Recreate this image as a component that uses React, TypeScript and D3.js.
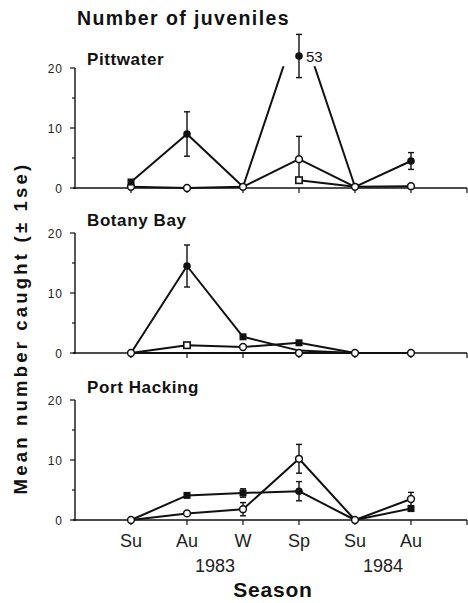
import { useEffect, useRef } from 'react'
import * as d3 from 'd3'

// seasons along the x axis (index 1..6), the axis runs from 0 to 7
const seasons = ['Su', 'Au', 'W', 'Sp', 'Su', 'Au']
const years = ['1983', '1984']
const yearCentres = [2.5, 5.5]
const yTicks = [0, 10, 20]
const yMinorTicks = [5, 15]

const panelNames = ['Pittwater', 'Botany Bay', 'Port Hacking']

// Pittwater
const pwFilled = [1.0, 9.0, 0.2, 53, 0.2, 4.5]
const pwFilledSe = [0, 3.7, 0, 3.6, 0, 1.4]
const pwFilledMarks = ['box', 'dot', '', 'dot', '', 'dot']
const pwOpen = [0.2, 0, 0.2, 4.8, 0.2, 0.3]
const pwOpenSe = [0, 0, 0, 3.8, 0, 0]
const pwOpenMarks = ['ring', 'ring', 'ring', 'ring', 'ring', 'ring']
const pwSquare = [null, null, null, 1.3, 0.2, null]
const pwSquareSe = [0, 0, 0, 0, 0, 0]
const pwSquareMarks = ['', '', '', 'openbox', '', '']

// Botany Bay
const bbFilled = [0, 14.5, 2.7, 0.4, 0, null]
const bbFilledSe = [0, 3.5, 0, 0, 0, 0]
const bbFilledMarks = ['', 'dot', 'box', '', '', '']
const bbOpen = [0, 1.3, 1.0, 1.7, 0, 0]
const bbOpenSe = [0, 0, 0, 0.3, 0, 0]
const bbOpenMarks = ['ring', 'openbox', 'ring', 'box', 'ring', 'ring']
const bbZero = [0, 0, 0, 0, 0, 0]
const bbZeroSe = [0, 0, 0, 0, 0, 0]
const bbZeroMarks = ['', '', '', 'ring', '', '']

// Port Hacking
const phFilled = [0, 4.1, 4.5, 4.8, 0, 1.9]
const phFilledSe = [0, 0, 0.7, 1.6, 0, 0.4]
const phFilledMarks = ['', 'box', 'box', 'dot', '', 'box']
const phOpen = [0, 1.1, 1.8, 10.2, 0, 3.5]
const phOpenSe = [0, 0, 1.1, 2.4, 0, 1.1]
const phOpenMarks = ['ring', 'ring', 'ring', 'ring', 'ring', 'ring']

type Series = { values: (number | null)[]; se: number[]; marks: string[] }

const panels: Series[][] = [
  [
    { values: pwOpen, se: pwOpenSe, marks: pwOpenMarks },
    { values: pwSquare, se: pwSquareSe, marks: pwSquareMarks },
    { values: pwFilled, se: pwFilledSe, marks: pwFilledMarks },
  ],
  [
    { values: bbZero, se: bbZeroSe, marks: bbZeroMarks },
    { values: bbOpen, se: bbOpenSe, marks: bbOpenMarks },
    { values: bbFilled, se: bbFilledSe, marks: bbFilledMarks },
  ],
  [
    { values: phFilled, se: phFilledSe, marks: phFilledMarks },
    { values: phOpen, se: phOpenSe, marks: phOpenMarks },
  ],
]

function App() {
  const svgRef = useRef<SVGSVGElement>(null)

  useEffect(() => {
    const width = 468
    const height = 603
    const font = '"Liberation Sans", Arial, sans-serif'
    const ink = '#111'

    const svg = d3.select(svgRef.current)
    svg.selectAll('*').remove()
    svg.attr('width', width).attr('height', height)

    svg.append('rect').attr('width', width).attr('height', height).attr('fill', '#fff')

    const x = d3.scaleLinear().domain([0, 7]).range([75, 467])
    const panelZero = [188, 353, 520]
    const panelTop = 120
    const labelBaseline = [65, 226, 393]

    // off-scale value: drawn at 22, lines aim at 28 and stop at 20.3
    const shownAt = 22
    const aimAt = 28
    const cutAt = 20.3

    svg.append('text')
      .attr('x', 77).attr('y', 25)
      .attr('font-family', font).attr('font-weight', 'bold')
      .attr('font-size', 19.5).attr('letter-spacing', 1.4)
      .attr('fill', ink)
      .text('Number of juveniles')

    panels.forEach((series, p) => {
      const y = d3.scaleLinear().domain([0, 20]).range([panelZero[p], panelZero[p] - panelTop])
      const g = svg.append('g')

      // axes
      g.append('line')
        .attr('x1', x(0)).attr('x2', x(0))
        .attr('y1', y(20)).attr('y2', y(0) + 1)
        .attr('stroke', ink).attr('stroke-width', 1.4)
      g.append('line')
        .attr('x1', x(0) - 2).attr('x2', x(7))
        .attr('y1', y(0)).attr('y2', y(0))
        .attr('stroke', ink).attr('stroke-width', 1.4)

      yTicks.forEach(t => {
        g.append('line')
          .attr('x1', x(0) - 5).attr('x2', x(0))
          .attr('y1', y(t)).attr('y2', y(t))
          .attr('stroke', ink).attr('stroke-width', 1.2)
        g.append('text')
          .attr('x', 63).attr('y', y(t) + 4.5)
          .attr('text-anchor', 'end')
          .attr('font-family', font).attr('font-size', 12).attr('letter-spacing', 1)
          .attr('fill', '#222')
          .text(t)
      })
      yMinorTicks.forEach(t => {
        g.append('line')
          .attr('x1', x(0) - 3).attr('x2', x(0))
          .attr('y1', y(t)).attr('y2', y(t))
          .attr('stroke', ink).attr('stroke-width', 1.2)
      })
      d3.range(1, 8).forEach(i => {
        g.append('line')
          .attr('x1', x(i)).attr('x2', x(i))
          .attr('y1', y(0)).attr('y2', y(0) + 5)
          .attr('stroke', ink).attr('stroke-width', 1.2)
      })

      g.append('text')
        .attr('x', 87).attr('y', labelBaseline[p])
        .attr('font-family', font).attr('font-weight', 'bold')
        .attr('font-size', 17).attr('letter-spacing', 0.6)
        .attr('fill', ink)
        .text(panelNames[p])

      const clipId = `clip-${p}`
      svg.append('clipPath').attr('id', clipId)
        .append('rect')
        .attr('x', 0).attr('y', y(cutAt))
        .attr('width', width).attr('height', height)

      const line = d3.line<[number, number]>()
        .x(d => x(d[0] + 1))
        .y(d => y(d[1] > 20 ? aimAt : d[1]))

      // lines
      series.forEach(s => {
        const pts = s.values
          .map((v, i) => [i, v] as [number, number | null])
          .filter(d => d[1] !== null) as [number, number][]
        g.append('path')
          .attr('d', line(pts))
          .attr('fill', 'none')
          .attr('stroke', ink).attr('stroke-width', 2)
          .attr('stroke-linejoin', 'round')
          .attr('clip-path', `url(#${clipId})`)
      })

      // error bars and markers
      series.forEach(s => {
        s.values.forEach((v, i) => {
          if (v === null) return
          const shown = v > 20 ? shownAt : v
          const cx = x(i + 1)
          const cy = y(shown)
          const se = s.se[i]
          if (se > 0) {
            const top = y(shown + se)
            const bottom = y(Math.max(0, shown - se))
            g.append('line').attr('x1', cx).attr('x2', cx).attr('y1', top).attr('y2', bottom)
              .attr('stroke', ink).attr('stroke-width', 1.4)
            ;[top, bottom].forEach(yy => {
              g.append('line').attr('x1', cx - 3).attr('x2', cx + 3).attr('y1', yy).attr('y2', yy)
                .attr('stroke', ink).attr('stroke-width', 1.4)
            })
          }
          const m = s.marks[i]
          if (m === 'dot') {
            g.append('circle').attr('cx', cx).attr('cy', cy).attr('r', 3.8).attr('fill', ink)
          } else if (m === 'ring') {
            g.append('circle').attr('cx', cx).attr('cy', cy).attr('r', 3.4)
              .attr('fill', '#fff').attr('stroke', ink).attr('stroke-width', 1.5)
          } else if (m === 'box') {
            g.append('rect').attr('x', cx - 3.5).attr('y', cy - 3.5).attr('width', 7).attr('height', 7)
              .attr('fill', ink)
          } else if (m === 'openbox') {
            g.append('rect').attr('x', cx - 3.2).attr('y', cy - 3.2).attr('width', 6.4).attr('height', 6.4)
              .attr('fill', '#fff').attr('stroke', ink).attr('stroke-width', 1.6)
          }
          if (v > 20) {
            g.append('text')
              .attr('x', cx + 7).attr('y', cy + 6)
              .attr('font-family', font).attr('font-size', 15)
              .attr('fill', ink)
              .text(v)
          }
        })
      })
    })

    // season and year labels under the last panel
    const base = panelZero[2]
    seasons.forEach((s, i) => {
      svg.append('text')
        .attr('x', x(i + 1)).attr('y', base + 27)
        .attr('text-anchor', 'middle')
        .attr('font-family', font).attr('font-size', 18)
        .attr('fill', '#222')
        .text(s)
    })
    years.forEach((yr, i) => {
      svg.append('text')
        .attr('x', x(yearCentres[i])).attr('y', base + 52)
        .attr('text-anchor', 'middle')
        .attr('font-family', font).attr('font-size', 18)
        .attr('fill', '#222')
        .text(yr)
    })

    svg.append('text')
      .attr('x', 273).attr('y', 597)
      .attr('text-anchor', 'middle')
      .attr('font-family', font).attr('font-weight', 'bold')
      .attr('font-size', 21).attr('letter-spacing', 0.8)
      .attr('fill', ink)
      .text('Season')

    svg.append('text')
      .attr('transform', 'translate(27, 328) rotate(-90)')
      .attr('text-anchor', 'middle')
      .attr('font-family', font).attr('font-weight', 'bold')
      .attr('font-size', 18.5).attr('letter-spacing', 3.2)
      .attr('fill', ink)
      .text('Mean number caught (\u00b1 1se)')
  }, [])

  return <svg ref={svgRef} style={{ position: 'absolute', left: 0, top: 0 }} />
}

export default App
